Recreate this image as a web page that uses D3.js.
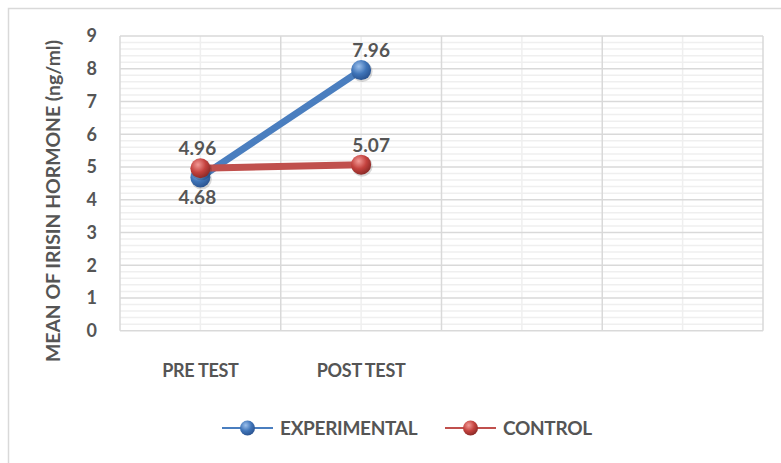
<!DOCTYPE html>
<html><head><meta charset="utf-8">
<script src="https://cdn.jsdelivr.net/npm/d3@7"></script>
<style>html,body{margin:0;padding:0;background:#fff;}svg{display:block;}</style>
</head><body>
<script>
const categories = ["PRE TEST", "POST TEST", "", ""];
const experimental = [4.68, 7.96];
const control = [4.96, 5.07];
const yTicks = [0,1,2,3,4,5,6,7,8,9];
const seriesNames = ["EXPERIMENTAL", "CONTROL"];

const W = 781, H = 463;
const M = {left:120, top:36, right:763, bottom:330.7};
const font = "Lato, 'Open Sans', sans-serif";
const txt = "#555555";
const blue = "#4A7EBF", red = "#C0504D";

const svg = d3.select("body").append("svg").attr("width", W).attr("height", H);
const defs = svg.append("defs");
function grad(id, c0, c1, c2){
  const g = defs.append("radialGradient").attr("id", id).attr("cx","38%").attr("cy","32%").attr("r","70%");
  g.append("stop").attr("offset","0%").attr("stop-color",c0);
  g.append("stop").attr("offset","55%").attr("stop-color",c1);
  g.append("stop").attr("offset","100%").attr("stop-color",c2);
}
grad("gb", "#9cc0ec", "#3f74b8", "#2a5390");
grad("gr", "#f29a96", "#c4423e", "#8a2a27");

// outer border
svg.append("rect").attr("x",8.5).attr("y",8.5).attr("width",W+10).attr("height",H+10)
  .attr("fill","none").attr("stroke","#d9d9d9").attr("stroke-width",1.5);

const x = d3.scaleBand().domain(d3.range(categories.length)).range([M.left, M.right]);
const y = d3.scaleLinear().domain([0, 9]).range([M.bottom, M.top]);
const cx = i => x(i) + x.bandwidth()/2;

const g = svg.append("g");
const minor = d3.range(0, 9.0001, 0.2).filter(v => Math.abs(v - Math.round(v)) > 1e-6);
g.selectAll(".hm").data(minor).enter().append("line")
  .attr("x1", M.left).attr("x2", M.right).attr("y1", d=>y(d)).attr("y2", d=>y(d))
  .attr("stroke","#efefef").attr("stroke-width",1.5);
g.selectAll(".vm").data(d3.range(categories.length)).enter().append("line")
  .attr("x1", d=>cx(d)).attr("x2", d=>cx(d)).attr("y1", M.top).attr("y2", M.bottom)
  .attr("stroke","#efefef").attr("stroke-width",1.5);
g.selectAll(".hM").data(yTicks).enter().append("line")
  .attr("x1", M.left).attr("x2", M.right).attr("y1", d=>y(d)).attr("y2", d=>y(d))
  .attr("stroke","#d9d9d9").attr("stroke-width",1.5);
const edges = d3.range(categories.length).map(i => x(i)).concat([M.right]);
g.selectAll(".vM").data(edges).enter().append("line")
  .attr("x1", d=>d).attr("x2", d=>d).attr("y1", M.top).attr("y2", M.bottom)
  .attr("stroke","#d9d9d9").attr("stroke-width",1.5);

svg.selectAll(".yt").data(yTicks).enter().append("text")
  .attr("x", 97).attr("y", d=>y(d)).attr("dy","0.36em").attr("text-anchor","end")
  .attr("font-family",font).attr("font-weight","bold").attr("font-size",18).attr("fill",txt)
  .text(d=>d);
svg.selectAll(".xt").data(categories).enter().append("text")
  .attr("x",(d,i)=>cx(i)).attr("y",377).attr("text-anchor","middle")
  .attr("font-family",font).attr("font-weight","bold").attr("font-size",18).attr("fill",txt)
  .attr("letter-spacing","-0.3").text(d=>d);
svg.append("text").attr("transform","translate(54,201) rotate(-90)")
  .attr("text-anchor","middle").attr("dy","0.35em")
  .attr("font-family",font).attr("font-weight","bold").attr("font-size",18).attr("fill",txt)
  .attr("textLength",322).attr("lengthAdjust","spacingAndGlyphs")
  .text("MEAN OF IRISIN HORMONE (ng/ml)");

const line = d3.line().x((d,i)=>cx(i)).y(d=>y(d));
function drawSeries(vals, color, gid, labelPos){
  svg.append("path").datum(vals).attr("d", line).attr("fill","none")
    .attr("stroke", color).attr("stroke-width",7).attr("stroke-linecap","round");
  svg.selectAll(null).data(vals).enter().append("circle")
    .attr("cx",(d,i)=>cx(i)+1).attr("cy",d=>y(d)+1.5).attr("r",10.5).attr("fill","rgba(0,0,0,0.15)");
  svg.selectAll(null).data(vals).enter().append("circle")
    .attr("cx",(d,i)=>cx(i)).attr("cy",d=>y(d)).attr("r",10).attr("fill","url(#"+gid+")");
  svg.selectAll(null).data(vals).enter().append("text")
    .attr("x",(d,i)=>cx(i) + (i===0 ? -3 : 10))
    .attr("y",(d,i)=> labelPos[i]==="below" ? y(d)+27 : y(d)-13)
    .attr("text-anchor","middle")
    .attr("font-family",font).attr("font-weight","bold").attr("font-size",19).attr("fill",txt)
    .text(d=>d.toFixed(2));
}
drawSeries(experimental, blue, "gb", ["below","above"]);
drawSeries(control, red, "gr", ["above","above"]);

const legend = [
  {name: seriesNames[0], color: blue, gid:"gb", x0:222},
  {name: seriesNames[1], color: red, gid:"gr", x0:445}
];
const ly = 428;
legend.forEach(l => {
  svg.append("line").attr("x1",l.x0).attr("x2",l.x0+51).attr("y1",ly).attr("y2",ly)
    .attr("stroke",l.color).attr("stroke-width",2.2);
  svg.append("circle").attr("cx",l.x0+25.5).attr("cy",ly).attr("r",7.5).attr("fill","url(#"+l.gid+")");
  svg.append("text").attr("x",l.x0+58).attr("y",ly).attr("dy","0.36em")
    .attr("font-family",font).attr("font-weight","bold").attr("font-size",19).attr("fill",txt)
    .attr("letter-spacing","-0.3").text(l.name);
});
</script>
</body></html>
